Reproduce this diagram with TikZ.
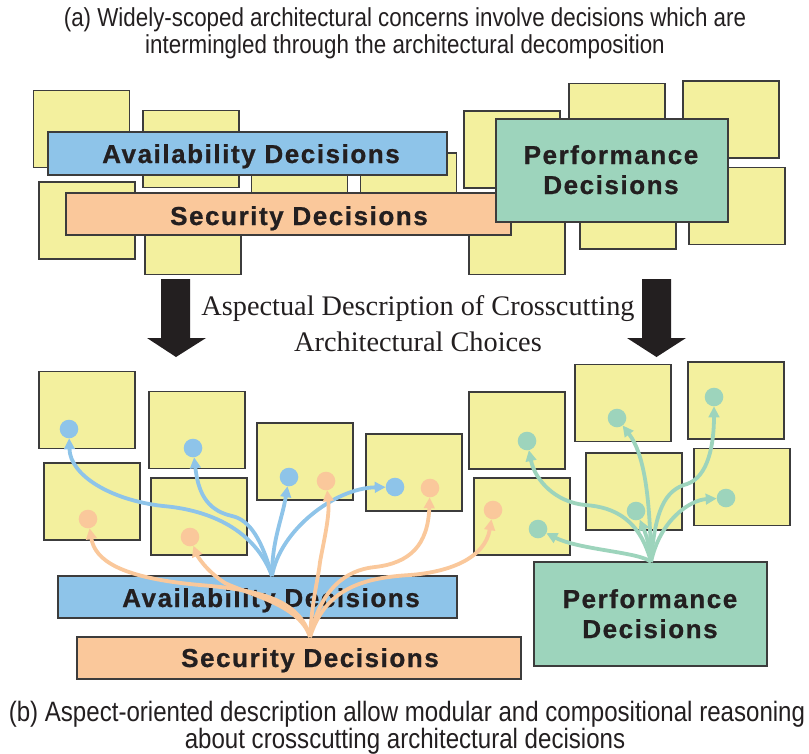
\documentclass[tikz,border=0pt]{standalone}
\usepackage{fontspec}
\usetikzlibrary{arrows.meta}
\setmainfont{Liberation Serif}
\newfontfamily\capfont[FakeStretch=0.86]{Liberation Sans}
\newfontfamily\barfont[LetterSpace=6,FakeBold=0.8]{Liberation Sans}

\definecolor{note}{HTML}{F3F09E}
\definecolor{avail}{HTML}{8EC4E9}
\definecolor{secur}{HTML}{FAC89B}
\definecolor{perf}{HTML}{9DD4BC}
\definecolor{edge}{HTML}{3C3C3C}
\definecolor{ink}{HTML}{231F20}

\tikzset{
  card/.style={draw=edge, line width=1.4pt, fill=note, inner sep=0pt, outer sep=0pt,
               minimum width=96pt, minimum height=77pt},
  bar/.style={draw=edge, line width=1.4pt, inner sep=0pt, outer sep=0pt},
  bartext/.style={font=\barfont\bfseries\fontsize{26}{30}\selectfont, text=ink, anchor=base, inner sep=0pt},
  caption/.style={font=\capfont\fontsize{26}{30}\selectfont, text=ink, anchor=base, inner sep=0pt},
  bigcaption/.style={font=\capfont\fontsize{28}{32}\selectfont, text=ink, anchor=base, inner sep=0pt},
  midtext/.style={font=\fontsize{28.3}{32}\selectfont, text=ink, anchor=base, inner sep=0pt},
  dot/.style={circle, inner sep=0pt, outer sep=0pt, minimum size=18.6pt},
  link/.style={line width=3.8pt, -{Triangle[length=11pt,width=10.5pt]}},
  downarrow/.style={fill=ink, draw=none},
}

\begin{document}
\begin{tikzpicture}[x=1pt,y=-1pt]
\useasboundingbox (0,0) rectangle (809,753);
\fill[white] (0,0) rectangle (809,753);

% ---------- (a) tangled decisions ----------
\node[caption] (capa1) at (405,26) {(a) Widely-scoped architectural concerns involve decisions which are};
\node[caption] (capa2) at (405,53) {intermingled through the architectural decomposition};

% components behind the decision bars
\node[card] (a1) at (81.5,129) {};
\node[card] (a2) at (191,149) {};
\node[card] (a3) at (87,220.5) {};
\node[card] (a4) at (193,236) {};
\node[card] (a5) at (299.5,193) {};
\node[card] (a6) at (408.5,191.5) {};
\node[card] (b1) at (512,149.5) {};
\node[card] (b2) at (517,236) {};
\node[card] (b3) at (617,122) {};
\node[card] (b4) at (628,210.5) {};
\node[card] (b5) at (731,119.5) {};
\node[card] (b6) at (737,206) {};

\node[bar, fill=avail, minimum width=399pt, minimum height=43pt] (availA) at (247.5,153.5) {};
\node[bartext] (availAt) at (251,163) {Availability Decisions};
\node[bar, fill=secur, minimum width=445pt, minimum height=42pt] (securA) at (288.5,214) {};
\node[bartext] (securAt) at (299,225) {Security Decisions};
\node[bar, fill=perf, minimum width=232pt, minimum height=103pt] (perfA) at (612,170.5) {};
\node[bartext] (perfAt1) at (611,164) {Performance};
\node[bartext] (perfAt2) at (611,194) {Decisions};

% ---------- transition ----------
\fill[downarrow] (161,279) -- (190,279) -- (190,338) -- (206,338) -- (176,357) -- (147,338) -- (161,338) -- cycle;
\fill[downarrow] (642,279) -- (671,279) -- (671,338) -- (686,338) -- (656.5,357) -- (627,338) -- (642,338) -- cycle;
\node[midtext] (mid1) at (418,315) {Aspectual Description of Crosscutting};
\node[midtext] (mid2) at (418,351) {Architectural Choices};

% ---------- (b) aspect-oriented description ----------
\node[card] (c1) at (87,410) {};
\node[card] (c2) at (197,430) {};
\node[card] (c3) at (305,461.5) {};
\node[card] (c4) at (414,472.5) {};
\node[card] (c5) at (92,501.5) {};
\node[card] (c6) at (199,516.5) {};
\node[card] (d1) at (517,430.5) {};
\node[card] (d2) at (623,403) {};
\node[card] (d3) at (736,400.5) {};
\node[card] (d4) at (522,516.5) {};
\node[card] (d5) at (634,491.5) {};
\node[card] (d6) at (742,487) {};

\node[bar, fill=avail, minimum width=399pt, minimum height=42pt] (availB) at (257.5,597) {};
\node[bartext] (availBt) at (271,607) {Availability Decisions};
\node[bar, fill=secur, minimum width=444pt, minimum height=42pt] (securB) at (299,658) {};
\node[bartext] (securBt) at (310,667) {Security Decisions};
\node[bar, fill=perf, minimum width=233pt, minimum height=104pt] (perfB) at (650.5,614) {};
\node[bartext] (perfBt1) at (650,608) {Performance};
\node[bartext] (perfBt2) at (650,638) {Decisions};

% join points of each concern
\node[dot, fill=avail] (pa1) at (69,429) {};
\node[dot, fill=avail] (pa2) at (193,448) {};
\node[dot, fill=avail] (pa3) at (289,477) {};
\node[dot, fill=avail] (pa4) at (395,487) {};
\node[dot, fill=secur] (ps1) at (88,519) {};
\node[dot, fill=secur] (ps2) at (190,537) {};
\node[dot, fill=secur] (ps3) at (326,481) {};
\node[dot, fill=secur] (ps4) at (430,488) {};
\node[dot, fill=secur] (ps5) at (493,510) {};
\node[dot, fill=perf] (pp1) at (527,441) {};
\node[dot, fill=perf] (pp2) at (617,418) {};
\node[dot, fill=perf] (pp3) at (714,397) {};
\node[dot, fill=perf] (pp4) at (636,511) {};
\node[dot, fill=perf] (pp5) at (726,498) {};
\node[dot, fill=perf] (pp6) at (538,529) {};

\coordinate (asrc) at (272,576);
\coordinate (ssrc) at (310,637);
\coordinate (psrc) at (651,562);

% availability advice
\draw[link, avail] (asrc) .. controls (255,530) and (210,510) .. (163,506)
                          .. controls (110,500) and (70,475) .. (pa1);
\draw[link, avail] (asrc) .. controls (262,540) and (250,520) .. (232,516)
                          .. controls (205,510) and (198,490) .. (pa2);
\draw[link, avail] (asrc) .. controls (272,540) and (282,520) .. (pa3);
\draw[link, avail] (asrc) .. controls (280,530) and (335,488) .. (pa4);

% security advice
\draw[link, secur] (ssrc) .. controls (300,600) and (260,590) .. (200,585)
                          .. controls (120,578) and (95,560) .. (ps1);
\draw[link, secur] (ssrc) .. controls (300,605) and (250,595) .. (225,583)
                          .. controls (205,570) and (197,555) .. (ps2);
\draw[link, secur] (ssrc) .. controls (312,600) and (318,580) .. (320,562)
                          .. controls (324,540) and (330,515) .. (ps3);
\draw[link, secur] (ssrc) .. controls (320,590) and (345,570) .. (375,567)
                          .. controls (410,563) and (428,545) .. (ps4);
\draw[link, secur] (ssrc) .. controls (325,590) and (360,578) .. (410,575)
                          .. controls (450,572) and (485,558) .. (ps5);

% performance advice
\draw[link, perf] (psrc) .. controls (640,520) and (615,507) .. (585,505)
                         .. controls (555,502) and (535,480) .. (pp1);
\draw[link, perf] (psrc) .. controls (650,500) and (645,455) .. (pp2);
\draw[link, perf] (psrc) .. controls (655,510) and (665,490) .. (687,484)
                         .. controls (708,477) and (714,445) .. (pp3);
\draw[link, perf] (psrc) .. controls (650,545) and (645,532) .. (pp4);
\draw[link, perf] (psrc) .. controls (660,520) and (690,500) .. (pp5);
\draw[link, perf] (psrc) .. controls (640,552) and (580,550) .. (pp6);

\node[bigcaption] (capb1) at (407,721) {(b) Aspect-oriented description allow modular and compositional reasoning};
\node[bigcaption] (capb2) at (405,748) {about crosscutting architectural decisions};
\end{tikzpicture}
\end{document}
